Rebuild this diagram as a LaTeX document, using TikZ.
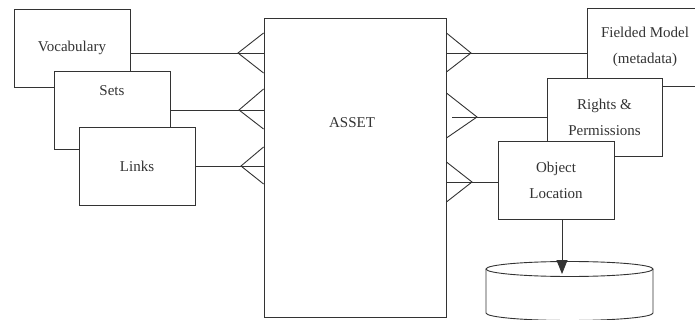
\documentclass[tikz,border=0pt]{standalone}
\usepackage{fontspec}
\setmainfont{Liberation Serif}
\usetikzlibrary{arrows.meta}
\tikzset{
  entity/.style={draw, fill=white, minimum width=116pt, minimum height=78pt, inner sep=0pt, align=center},
}
\begin{document}
\begin{tikzpicture}[x=1pt, y=-1pt, line width=0.9pt, color=black!80, font=\fontsize{15}{26}\selectfont]
\useasboundingbox (0,0) rectangle (695,320);
% central entity
\node[draw, minimum width=182pt, minimum height=299pt, inner sep=0pt] (asset) at (355,167.5) {};
\node (assettxt) at (352,123) {ASSET};
% left entities
\node[entity] (voc) at (72,48) {Vocabulary};
\node[entity] (sets) at (112,110) {};
\node (setstxt) at (112,91) {Sets};
\node[entity] (links) at (137,166) {Links};
% right entities
\node[entity] (fielded) at (645,47) {Fielded Model\\(metadata)};
\node[entity, minimum width=115pt] (rights) at (604.5,117.5) {Rights \&\\Permissions};
\node[entity] (objloc) at (556,180) {Object\\Location};
% crow's feet, left
\coordinate (vocfoot) at (238,53);
\coordinate (setsfoot) at (239,110);
\coordinate (linksfoot) at (241,166);
\draw (voc.east |- vocfoot) -- (asset.west |- vocfoot);
\draw (asset.west |- 0,33) -- (vocfoot) -- (asset.west |- 0,73);
\draw (sets.east |- setsfoot) -- (asset.west |- setsfoot);
\draw (asset.west |- 0,89) -- (setsfoot) -- (asset.west |- 0,129);
\draw (links.east |- linksfoot) -- (asset.west |- linksfoot);
\draw (asset.west |- 0,147) -- (linksfoot) -- (asset.west |- 0,184);
% crow's feet, right
\coordinate (fieldfoot) at (471,53);
\coordinate (rightsfoot) at (477,117);
\coordinate (objfoot) at (472,182);
\draw (asset.east |- fieldfoot) -- (fielded.west |- fieldfoot);
\draw (asset.east |- 0,33) -- (fieldfoot) -- (asset.east |- 0,72);
\draw ([xshift=6pt]asset.east |- rightsfoot) -- (rights.west |- rightsfoot);
\draw (asset.east |- 0,93) -- (rightsfoot) -- (asset.east |- 0,138);
\draw (asset.east |- objfoot) -- (objloc.west |- objfoot);
\draw (asset.east |- 0,162) -- (objfoot) -- (asset.east |- 0,202);
% storage
\draw[fill=white] (486,269) -- (486,313) arc[start angle=180, end angle=0, x radius=83.5, y radius=7.5] -- (653,269);
\draw[fill=white] (569.5,269) ellipse[x radius=83.5, y radius=7.5];
\coordinate (disk) at (562,274);
\draw[-{Triangle[length=14pt, width=11pt]}] (objloc.south -| disk) -- (disk);
\end{tikzpicture}
\end{document}
